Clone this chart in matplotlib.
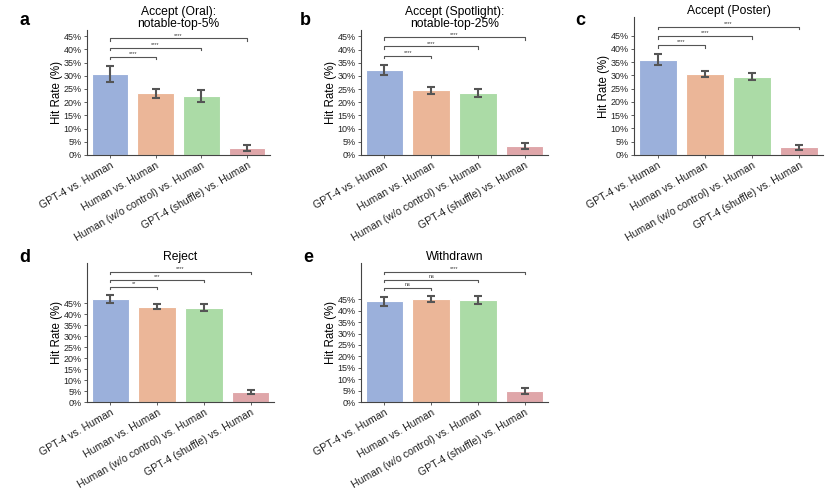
import numpy as np
import matplotlib
matplotlib.use("Agg")
import matplotlib.pyplot as plt

plt.rcParams['font.family'] = ['Liberation Sans', 'DejaVu Sans']

groups = ["GPT-4 vs. Human", "Human vs. Human",
          "Human (w/o control) vs. Human", "GPT-4 (shuffle) vs. Human"]
colors = ["#9bb0db", "#ebb698", "#abdba6", "#dfa6a9"]

titles = ["Accept (Oral):\nnotable-top-5%", "Accept (Spotlight):\nnotable-top-25%",
          "Accept (Poster)", "Reject", "Withdrawn"]
letters = ["a", "b", "c", "d", "e"]

# hit rate (%) and CI bounds per panel
rate_a = [30.5, 23.4, 22.2, 2.6]
low_a = [27.7, 21.6, 19.9, 1.4]
high_a = [33.7, 25.1, 24.6, 3.8]

rate_b = [32.1, 24.5, 23.5, 3.4]
low_b = [30.2, 23.3, 22.1, 2.3]
high_b = [34.2, 25.6, 25.1, 4.5]

rate_c = [35.9, 30.4, 29.4, 3.0]
low_c = [33.9, 29.3, 28.1, 2.0]
high_c = [37.9, 31.7, 30.8, 3.9]

rate_d = [46.8, 43.5, 43.1, 4.6]
low_d = [45.0, 42.2, 41.6, 3.7]
high_d = [48.9, 44.7, 44.5, 5.6]

rate_e = [44.1, 45.1, 44.6, 4.7]
low_e = [42.1, 43.8, 43.1, 3.7]
high_e = [46.2, 46.5, 46.3, 6.2]

sig_a = ["****", "****", "****"]
sig_b = ["****", "****", "****"]
sig_c = ["****", "****", "****"]
sig_d = ["**", "***", "****"]
sig_e = ["ns", "ns", "****"]

panels = [
    (rate_a, low_a, high_a, sig_a),
    (rate_b, low_b, high_b, sig_b),
    (rate_c, low_c, high_c, sig_c),
    (rate_d, low_d, high_d, sig_d),
    (rate_e, low_e, high_e, sig_e),
]

W, H = 830, 503
fig = plt.figure(figsize=(W / 100, H / 100), dpi=100)

# axes boxes in pixels: left, bottom(from top), right, top(from top)
boxes = [(87, 155, 270, 30), (361, 155, 548, 30), (634, 155, 823, 17),
         (87, 402, 274, 263), (361, 402, 548, 263)]
ytops = [47.3, 47.4, 52.0, 63.4, 60.9]
letter_pos = [(19, 25), (300, 25), (575, 25), (19, 262), (303, 262)]

x = np.arange(len(groups))
for i, (rate, low, high, sig) in enumerate(panels):
    l, b, r, t = boxes[i]
    ax = fig.add_axes([l / W, (H - b) / H, (r - l) / W, (b - t) / H])
    rate = np.array(rate)
    yerr = [rate - np.array(low), np.array(high) - rate]
    ax.bar(x, rate, width=0.8, color=colors, edgecolor="white", linewidth=0.8)
    ax.errorbar(x, rate, yerr=yerr, fmt="none", ecolor="#555555",
                elinewidth=1.5, capsize=3, capthick=1.5)
    ax.set_xlim(-0.5, 3.5)
    ax.set_ylim(0, ytops[i])
    ax.set_yticks(np.arange(0, 46, 5))
    ax.set_yticklabels([f"{v}%" for v in range(0, 46, 5)], fontsize=6.5,
                       color="#222222")
    ax.set_xticks(x)
    ax.set_xticklabels(groups, rotation=30, ha="right",
                       rotation_mode="anchor", fontsize=7.6, color="#222222")
    ax.tick_params(length=2.5, width=0.6, color="#444444", pad=1.5)
    ax.set_ylabel("Hit Rate (%)", fontsize=8.3, labelpad=0)
    ax.set_title(titles[i], fontsize=8.7, pad=2.5, linespacing=0.95)
    for s in ["top", "right"]:
        ax.spines[s].set_visible(False)
    for s in ["left", "bottom"]:
        ax.spines[s].set_linewidth(0.8)
        ax.spines[s].set_color("#444444")

    # significance brackets
    base = max(high) + 3.5
    step = 3.45
    for k in range(3):
        h = base + k * step
        ax.plot([0, 0, k + 1, k + 1], [h - 1, h, h, h - 1],
                color="#555555", lw=0.8, clip_on=False)
        ax.text((k + 1) / 2, h + 0.3, sig[k], ha="center", va="bottom",
                fontsize=4, color="#333333")

    lx, ly = letter_pos[i]
    fig.text(lx / W, 1 - ly / H, letters[i], fontsize=13, fontweight="bold",
             ha="left", va="baseline")

fig.savefig("out.png", dpi=100)
